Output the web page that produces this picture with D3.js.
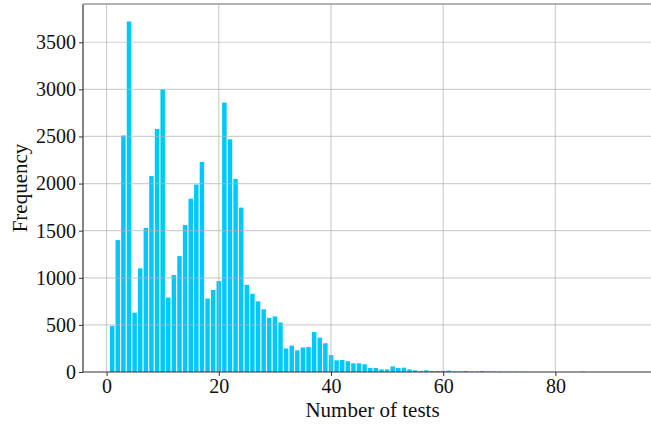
<!DOCTYPE html>
<html>
<head>
<meta charset="utf-8">
<script src="https://cdn.jsdelivr.net/npm/d3@7"></script>
<style>
  body { margin: 0; background: #fff; }
  svg { display: block; font-family: "Liberation Serif", "Times New Roman", serif; }
</style>
</head>
<body>
<svg id="hist" width="651" height="425"></svg>
<script>
// number of tests (bin centres) and how often each occurred
var testNumbers = d3.range(1, 86);
var frequencies = [
    490, 1400, 2510, 3720, 630, 1100, 1530, 2080, 2580, 3000,
    790, 1030, 1230, 1560, 1840, 1990, 2230, 780, 870, 965,
    2860, 2470, 2050, 1745, 925, 830, 750, 665, 575, 590,
    525, 250, 280, 230, 260, 265, 425, 365, 305, 180,
    124, 128, 114, 92, 92, 82, 43, 43, 28, 28,
    60, 43, 46, 28, 18, 11, 18, 11, 11, 12,
    15, 6, 5, 10, 5, 4, 10, 5, 4, 4,
    3, 3, 3, 3, 2, 0, 0, 0, 0, 0,
    0, 0, 0, 0, 4
];
var xTicks = [0, 20, 40, 60, 80];
var yTicks = d3.range(0, 4000, 500);

var svg = d3.select("#hist");

// plot area (right side runs a bit past the picture, like the original)
var plotLeft = 83, plotRight = 662, plotTop = 4, plotBottom = 372;

var x = d3.scaleLinear().domain([-4.2, 99]).range([plotLeft, plotRight]);
var y = d3.scaleLinear().domain([0, 3906]).range([plotBottom, plotTop]);

var data = testNumbers.map(function(n, i) { return {n: n, f: frequencies[i]}; });

// bars
var barW = x(0.8) - x(0);
svg.append("g")
    .selectAll("rect")
    .data(data.filter(function(d) { return d.f > 0; }))
    .enter()
    .append("rect")
    .attr("x", function(d) { return x(d.n) - barW / 2; })
    .attr("width", barW)
    .attr("y", function(d) { return y(d.f); })
    .attr("height", function(d) { return plotBottom - y(d.f); })
    .attr("fill", "#00c8ff");

// grid on top of bars
var grid = svg.append("g").attr("stroke", "#b0b0b0").attr("stroke-opacity", 0.6).attr("stroke-width", 1.2);
grid.selectAll(".gx")
    .data(xTicks)
    .enter()
    .append("line")
    .attr("x1", function(d) { return x(d); })
    .attr("x2", function(d) { return x(d); })
    .attr("y1", plotTop)
    .attr("y2", plotBottom);
grid.selectAll(".gy")
    .data(yTicks.slice(1))
    .enter()
    .append("line")
    .attr("x1", plotLeft)
    .attr("x2", plotRight)
    .attr("y1", function(d) { return y(d); })
    .attr("y2", function(d) { return y(d); });

// axes
var xAxis = d3.axisBottom(x).tickValues(xTicks).tickSize(4).tickPadding(3);
var yAxis = d3.axisLeft(y).tickValues(yTicks).tickSize(4).tickPadding(3).tickFormat(d3.format("d"));

var gx = svg.append("g").attr("transform", "translate(0," + plotBottom + ")").call(xAxis);
var gy = svg.append("g").attr("transform", "translate(" + plotLeft + ",0)").call(yAxis);

[gx, gy].forEach(function(g) {
    g.selectAll("text")
        .attr("font-family", "Liberation Serif, Times New Roman, serif")
        .attr("font-size", 20)
        .attr("fill", "#111");
    g.selectAll(".tick line").attr("stroke", "#333");
    g.select(".domain").attr("stroke", "#333").attr("stroke-width", 1.2);
});
gx.select(".domain").attr("d", "M" + plotLeft + ",0H" + plotRight);
gy.select(".domain").attr("d", "M0," + plotBottom + "V" + plotTop);

// top spine
svg.append("line")
    .attr("x1", plotLeft).attr("x2", plotRight)
    .attr("y1", plotTop).attr("y2", plotTop)
    .attr("stroke", "#999")
    .attr("stroke-width", 1.5);

// axis labels
svg.append("text")
    .attr("x", (plotLeft + plotRight) / 2)
    .attr("y", 417)
    .attr("text-anchor", "middle")
    .attr("font-size", 21)
    .attr("fill", "#111")
    .text("Number of tests");

svg.append("text")
    .attr("transform", "translate(27," + ((plotTop + plotBottom) / 2) + ") rotate(-90)")
    .attr("text-anchor", "middle")
    .attr("font-size", 21)
    .attr("fill", "#111")
    .text("Frequency");
</script>
</body>
</html>
